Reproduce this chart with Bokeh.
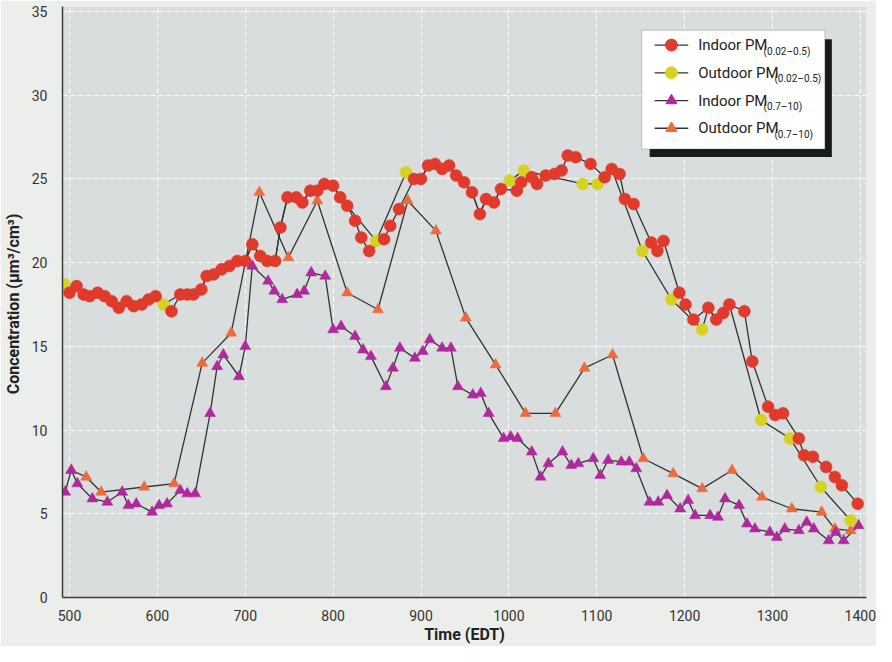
import math
from bokeh.plotting import figure
from bokeh.models import Range1d, FixedTicker, BoxAnnotation, Label
from bokeh.embed import file_html
from bokeh.resources import INLINE

# ---------------- data (time in EDT clock units, concentration in um3/cm3) -------------
indoor_fine_time = [500, 508, 516, 523, 532, 540, 548, 556, 565, 573, 582, 590, 598, 616, 626,
                    634, 641, 650, 656, 664, 673, 682, 691, 700, 708, 717, 725, 734, 740, 748,
                    758, 765, 774, 782, 790, 800, 808, 816, 825, 832, 841, 858, 865, 875, 892,
                    900, 908, 916, 924, 932, 940, 949, 958, 967, 974, 983, 991, 1009, 1014, 1026,
                    1032, 1042, 1052, 1060, 1067, 1076, 1093, 1109, 1117, 1126, 1132, 1142, 1162,
                    1169, 1176, 1194, 1201, 1210, 1227, 1236, 1244, 1251, 1268, 1277, 1295, 1303,
                    1312, 1330, 1336, 1346, 1361, 1371, 1379, 1397]
indoor_fine_conc = [18.2, 18.6, 18.1, 18.0, 18.2, 18.0, 17.7, 17.3, 17.7, 17.4, 17.5, 17.8, 18.0,
                    17.1, 18.1, 18.1, 18.1, 18.4, 19.2, 19.3, 19.6, 19.8, 20.1, 20.1, 21.1, 20.4,
                    20.1, 20.1, 22.1, 23.9, 23.9, 23.6, 24.3, 24.3, 24.7, 24.6, 23.9, 23.4, 22.5,
                    21.5, 20.7, 21.4, 22.2, 23.2, 25.0, 25.0, 25.8, 25.9, 25.6, 25.8, 25.2, 24.8,
                    24.2, 22.9, 23.8, 23.6, 24.4, 24.3, 24.8, 25.1, 24.7, 25.2, 25.3, 25.5, 26.4,
                    26.3, 25.9, 25.1, 25.6, 25.3, 23.8, 23.5, 21.2, 20.7, 21.3, 18.2, 17.5, 16.6,
                    17.3, 16.6, 17.0, 17.5, 17.1, 14.1, 11.4, 10.9, 11.0, 9.5, 8.5, 8.4, 7.8, 7.2,
                    6.7, 5.6]

# outdoor fine readings that stand apart from the indoor curve (yellow dots)
outdoor_fine_time = [494, 607, 849, 883, 1001, 1017, 1084, 1101, 1152, 1185, 1220, 1287, 1320,
                     1355, 1389]
outdoor_fine_conc = [18.7, 17.5, 21.3, 25.4, 24.9, 25.5, 24.7, 24.7, 20.7, 17.8, 16.0, 10.6, 9.5,
                     6.6, 4.6]
# time spans where the outdoor fine curve runs on top of the indoor one (dots hidden)
outdoor_fine_shared_spans = [(500, 598), (626, 808), (892, 991), (1109, 1117), (1227, 1251)]

indoor_coarse_time = [495, 502, 509, 526, 543, 560, 567, 576, 594, 602, 611, 626, 634, 643, 660,
                      668, 675, 693, 700, 708, 726, 733, 742, 759, 767, 775, 791, 800, 809, 825,
                      834, 843, 860, 868, 876, 893, 902, 910, 924, 934, 942, 959, 968, 977, 994,
                      1002, 1010, 1026, 1036, 1045, 1061, 1071, 1079, 1096, 1104, 1113, 1128, 1137,
                      1145, 1160, 1170, 1180, 1195, 1204, 1212, 1229, 1238, 1246, 1262, 1271, 1280,
                      1297, 1305, 1314, 1330, 1339, 1347, 1364, 1372, 1381, 1398]
indoor_coarse_conc = [6.3, 7.6, 6.8, 5.9, 5.7, 6.3, 5.5, 5.6, 5.1, 5.5, 5.6, 6.4, 6.2, 6.2, 11.0,
                      13.8, 14.5, 13.2, 15.0, 19.8, 18.9, 18.3, 17.8, 18.1, 18.3, 19.4, 19.2, 16.0,
                      16.2, 15.6, 14.8, 14.4, 12.6, 13.7, 14.9, 14.3, 14.7, 15.4, 14.9, 14.9, 12.6,
                      12.1, 12.2, 11.0, 9.5, 9.6, 9.5, 8.7, 7.2, 8.0, 8.7, 7.9, 8.0, 8.3, 7.3, 8.2,
                      8.1, 8.1, 7.7, 5.7, 5.7, 6.1, 5.3, 5.8, 4.9, 4.9, 4.8, 5.9, 5.5, 4.4, 4.1,
                      3.9, 3.6, 4.1, 4.0, 4.5, 4.1, 3.4, 3.9, 3.4, 4.3]

outdoor_coarse_time = [502, 519, 536, 585, 619, 651, 684, 716, 749, 782, 816, 851, 885, 917, 951,
                       985, 1019, 1053, 1086, 1118, 1153, 1187, 1220, 1254, 1288, 1322, 1356,
                       1371, 1389]
outdoor_coarse_conc = [7.6, 7.2, 6.3, 6.6, 6.8, 14.0, 15.8, 24.2, 20.3, 23.7, 18.2, 17.2, 23.7,
                       21.9, 16.7, 13.9, 11.0, 11.0, 13.7, 14.5, 8.3, 7.4, 6.5, 7.6, 6.0, 5.3,
                       5.1, 4.1, 4.0]

x_ticks = [500, 600, 700, 800, 900, 1000, 1100, 1200, 1300, 1400]
y_ticks = [0, 5, 10, 15, 20, 25, 30, 35]

series_names = ["Indoor PM", "Outdoor PM", "Indoor PM", "Outdoor PM"]
series_subs = ["(0.02\u20130.5)", "(0.02\u20130.5)", "(0.7\u201310)", "(0.7\u201310)"]

# ---------------- styling / layout ----------------
FONT = "Roboto"
RED, YELLOW, PURPLE, ORANGE = "#e03a2c", "#d6d222", "#b0289c", "#ec6b3c"
LINE = "#2f3630"
W, H = 876, 646
FL, FR, FT, FB = 54, 866, 6, 603          # frame edges inside the figure (px)
X0, X1, Y0, Y1 = 492, 1407, 0, 35.3


def dx(px):   # page pixel -> data x (legend decoration only)
    return X0 + (px - 8 - FL) * (X1 - X0) / (FR - FL)


def dy(py):   # page pixel -> data y (legend decoration only)
    return Y0 + (FB + 8 - py) * (Y1 - Y0) / (FB - FT)


p = figure(width=W, height=H, output_backend="svg", toolbar_location=None,
           x_range=Range1d(X0, X1), y_range=Range1d(Y0, Y1),
           min_border_left=FL, min_border_right=W - FR,
           min_border_top=FT, min_border_bottom=H - FB)
p.background_fill_color = "#d9dddd"
p.border_fill_color = "#eceeec"
p.outline_line_color = None

for ax, ticks in ((p.xaxis[0], x_ticks), (p.yaxis[0], y_ticks)):
    ax.ticker = FixedTicker(ticks=ticks)
    ax.major_tick_line_color = None
    ax.minor_tick_line_color = None
    ax.axis_line_color = "#3a3d3a"
    ax.axis_line_width = 1.5
    ax.major_label_text_font = FONT
    ax.major_label_text_font_size = "14px"
    ax.major_label_text_color = "#333333"
    ax.axis_label_text_font = FONT
    ax.axis_label_text_font_style = "bold"
    ax.axis_label_text_font_size = "16px"
    ax.axis_label_text_color = "#222222"
p.yaxis.major_label_standoff = 9
p.xaxis.major_label_standoff = 6
p.yaxis.axis_label = "Concentration  (\u03bcm\u00b3/cm\u00b3)"
p.xaxis.axis_label = "Time (EDT)"
p.yaxis.axis_label_standoff = 6
p.xaxis.axis_label_standoff = 1

p.xgrid.ticker = FixedTicker(ticks=x_ticks)
p.ygrid.ticker = FixedTicker(ticks=y_ticks)
for g in (p.xgrid[0], p.ygrid[0]):
    g.grid_line_color = "white"
    g.grid_line_alpha = 0.9
    g.grid_line_dash = "5 3"
    g.grid_line_width = 1

# ---------------- series ----------------
# outdoor fine curve: its own readings plus the stretches where it coincides with indoor
of_path = list(zip(outdoor_fine_time, outdoor_fine_conc))
for t, c in zip(indoor_fine_time, indoor_fine_conc):
    if any(a <= t <= b for a, b in outdoor_fine_shared_spans):
        of_path.append((t, c))
of_path.sort()

p.line(indoor_fine_time, indoor_fine_conc, line_color=LINE, line_width=1.3)
p.line([a for a, _ in of_path], [b for _, b in of_path], line_color=LINE, line_width=1.3)
p.line(indoor_coarse_time, indoor_coarse_conc, line_color=LINE, line_width=1.3)
p.line(outdoor_coarse_time, outdoor_coarse_conc, line_color=LINE, line_width=1.3)

p.scatter(outdoor_coarse_time, outdoor_coarse_conc, marker="triangle", size=11,
          fill_color=ORANGE, line_color=ORANGE, line_width=0.5)
p.scatter(indoor_coarse_time, indoor_coarse_conc, marker="triangle", size=11,
          fill_color=PURPLE, line_color=PURPLE, line_width=0.5)
p.scatter(outdoor_fine_time, outdoor_fine_conc, marker="circle", size=12,
          fill_color=YELLOW, line_color=YELLOW, line_width=0.5)
p.scatter(indoor_fine_time, indoor_fine_conc, marker="circle", size=12,
          fill_color=RED, line_color=RED, line_width=0.5)

# ---------------- legend (drawn by hand to allow subscripts) ----------------
p.add_layout(BoxAnnotation(left=dx(655), right=dx(839), top=dy(47), bottom=dy(166),
                           fill_color="#161c16", fill_alpha=1, line_color=None, level="underlay"))
p.add_layout(BoxAnnotation(left=dx(647), right=dx(832), top=dy(38), bottom=dy(158),
                           fill_color="white", fill_alpha=1, line_color="#555555",
                           line_width=1, level="underlay"))
legend_style = [("circle", RED, 12), ("circle", YELLOW, 12),
                ("triangle", PURPLE, 11), ("triangle", ORANGE, 11)]
rows = [53, 81, 109, 137]
sub_x = [770, 781, 770, 781]
for i, (m, col, s) in enumerate(legend_style):
    yy = dy(rows[i])
    p.line([dx(660), dx(694)], [yy, yy], line_color=LINE, line_width=1.3)
    p.scatter([dx(677)], [yy], marker=m, size=s, fill_color=col, line_color=col)
    p.add_layout(Label(x=dx(704), y=yy, text=series_names[i], text_font=FONT,
                       text_font_size="15px", text_color="#222222", text_baseline="middle"))
    p.add_layout(Label(x=dx(sub_x[i]), y=dy(rows[i] + 6), text=series_subs[i], text_font=FONT,
                       text_font_size="10px", text_color="#222222", text_baseline="middle"))

open("out.html", "w").write(file_html(p, INLINE))
